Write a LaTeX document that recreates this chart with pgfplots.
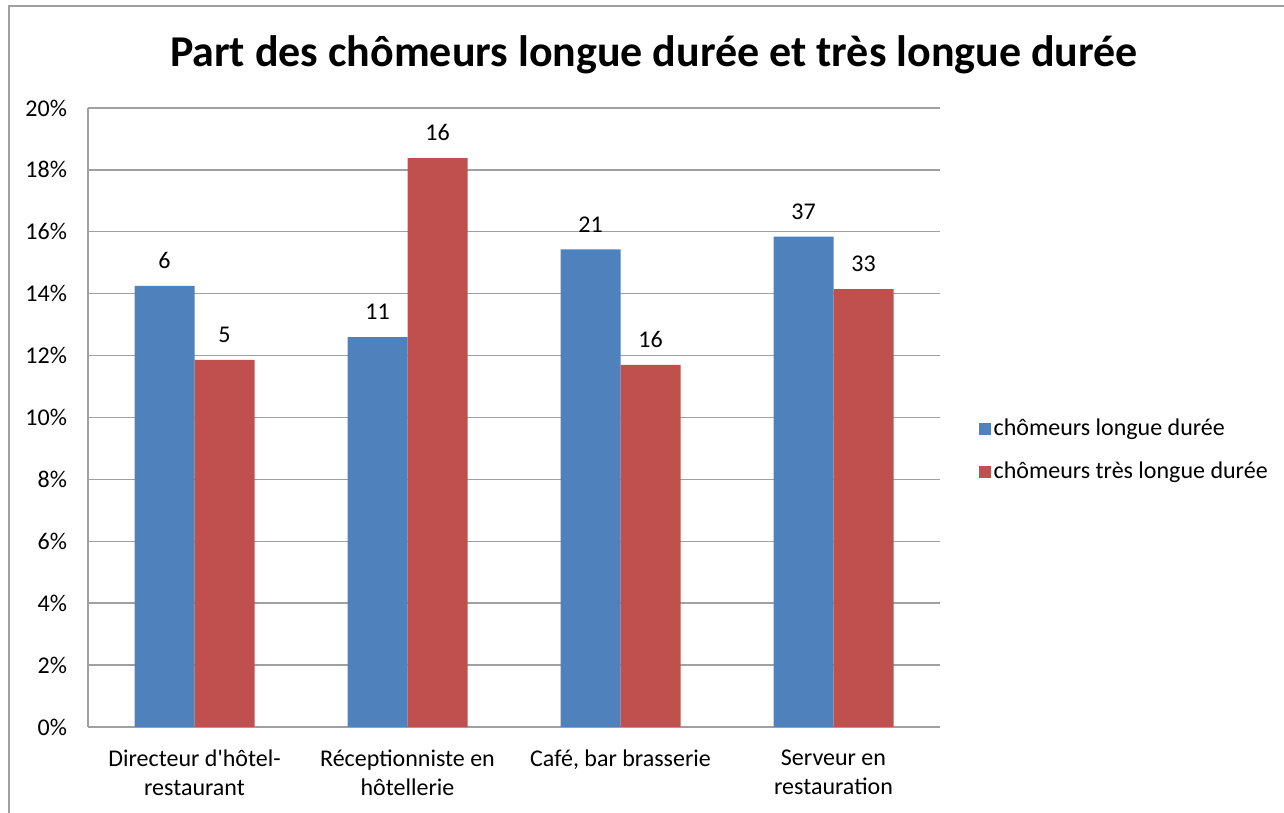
\documentclass[border=0pt]{standalone}
\usepackage{pgfplots}
\pgfplotsset{compat=1.18}
\usepackage{pgfplotstable}
\usepackage{fontspec}
\setmainfont{Carlito}
\definecolor{cblue}{HTML}{4F81BD}
\definecolor{cred}{HTML}{C0504D}
\definecolor{gridgray}{HTML}{A0A0A0}
\pgfplotstableread{
x y lab
0 14.25 6
1 12.60 11
2 15.43 21
3 15.84 37
}\longue
\pgfplotstableread{
x y lab
0 11.86 5
1 18.38 16
2 11.70 16
3 14.15 33
}\treslongue
\begin{document}
\begin{tikzpicture}
\useasboundingbox (0pt,0pt) rectangle (642pt,406.5pt);
\draw[gridgray, line width=1pt] (4.5pt,0pt) -- (4.5pt,403.5pt) -- (642pt,403.5pt);
\node[font=\bfseries\fontsize{22}{26}\selectfont, anchor=base] at (327pt,373pt) {Part des chômeurs longue durée et très longue durée};
\begin{axis}[
  at={(44pt,43pt)}, anchor=south west,
  scale only axis, width=426pt, height=309.5pt,
  ymin=0, ymax=20, ytick={0,2,...,20},
  yticklabel={\pgfmathprintnumber{\tick}\%},
  xmin=-0.5, xmax=3.5,
  xtick=data,
  xticklabels={{Directeur d\textquotesingle hôtel-\\restaurant},{Réceptionniste en\\hôtellerie},{Café, bar brasserie},{Serveur en\\restauration}},
  x tick label style={align=center, font=\fontsize{12}{14.5}\selectfont, anchor=north, yshift=-8pt},
  y tick label style={font=\fontsize{12}{14}\selectfont, xshift=-7pt},
  /pgf/number format/assume math mode=true,
  axis x line*=bottom, axis y line*=left,
  axis line style={gridgray, line width=0.7pt},
  ymajorgrids, grid style={gridgray, line width=0.7pt},
  major tick length=0pt,
  ybar=0pt, bar width=30pt,
  nodes near coords,
  point meta=explicit symbolic,
  every node near coord/.append style={font=\fontsize{12}{14}\selectfont, anchor=south, inner sep=0pt, yshift=8.5pt, text=black},
  legend style={at={(1.045,0.447)}, anchor=west, draw=none, fill=none,
    font=\fontsize{12}{14}\selectfont, row sep=8.5pt, inner sep=0pt,
    nodes={inner sep=1.5pt}},
  legend cell align=left,
  legend image code/.code={\fill[#1] (0pt,-3pt) rectangle (6pt,3pt);},
  /tikz/every even column/.append style={column sep=2.5pt},
]
\addplot[fill=cblue, draw=none] table[x=x, y=y, meta=lab] {\longue};
\addplot[fill=cred, draw=none] table[x=x, y=y, meta=lab] {\treslongue};
\legend{chômeurs longue durée, chômeurs très longue durée}
\end{axis}
\end{tikzpicture}
\end{document}
